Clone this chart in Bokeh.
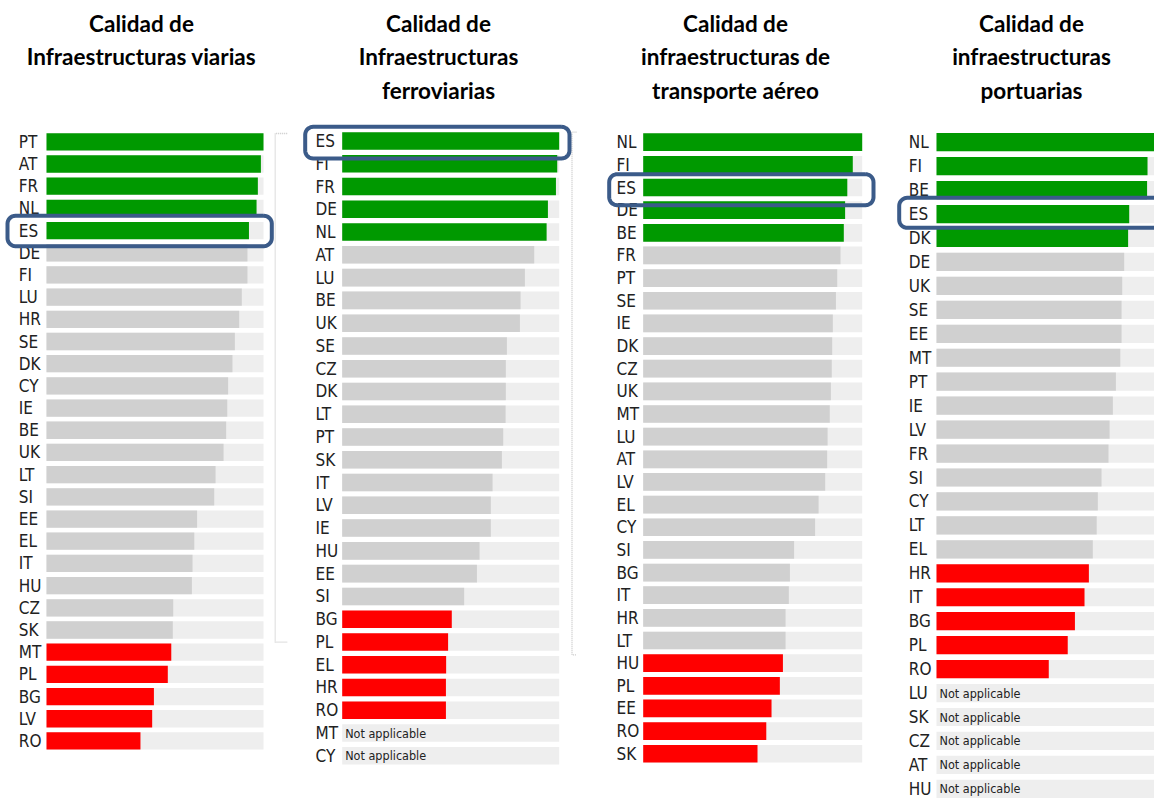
import math
from bokeh.plotting import figure
from bokeh.layouts import row
from bokeh.models import Range1d, ColumnDataSource
from bokeh.core.properties import value
from bokeh.embed import file_html
from bokeh.resources import INLINE

# ---------------- data ----------------
road_title = ["Calidad de", "Infraestructuras viarias"]
road_countries = ["PT", "AT", "FR", "NL", "ES", "DE", "FI", "LU", "HR", "SE", "DK", "CY", "IE", "BE",
                  "UK", "LT", "SI", "EE", "EL", "IT", "HU", "CZ", "SK", "MT", "PL", "BG", "LV", "RO"]
road_values = [100, 98.8, 97.4, 96.8, 93.3, 92.6, 92.6, 90.0, 88.8, 86.8, 85.7, 83.7, 83.3, 82.8,
               81.6, 77.9, 77.3, 69.4, 68.1, 67.3, 67.0, 58.4, 58.2, 57.5, 55.9, 49.5, 48.7, 43.3]

rail_title = ["Calidad de", "Infraestructuras", "ferroviarias"]
rail_countries = ["ES", "FI", "FR", "DE", "NL", "AT", "LU", "BE", "UK", "SE", "CZ", "DK", "LT", "PT",
                  "SK", "IT", "LV", "IE", "HU", "EE", "SI", "BG", "PL", "EL", "HR", "RO", "MT", "CY"]
rail_values = [100, 99.1, 98.5, 94.8, 94.2, 88.5, 84.2, 82.2, 81.9, 75.9, 75.4, 75.4, 75.3, 74.2,
               73.6, 69.3, 68.5, 68.5, 63.3, 62.1, 56.2, 50.5, 48.8, 47.9, 47.8, 47.8, None, None]

air_title = ["Calidad de", "infraestructuras de", "transporte aéreo"]
air_countries = ["NL", "FI", "ES", "DE", "BE", "FR", "PT", "SE", "IE", "DK", "CZ", "UK", "MT", "LU",
                 "AT", "LV", "EL", "CY", "SI", "BG", "IT", "HR", "LT", "HU", "PL", "EE", "RO", "SK"]
air_values = [100, 95.7, 93.2, 92.2, 91.6, 90.1, 88.6, 88.0, 86.6, 86.3, 86.1, 85.7, 85.2, 84.2,
              84.0, 83.1, 80.1, 78.5, 68.9, 67.0, 66.5, 65.0, 65.0, 63.8, 62.4, 58.6, 56.2, 52.2]

port_title = ["Calidad de", "infraestructuras", "portuarias"]
port_countries = ["NL", "FI", "BE", "ES", "DK", "DE", "UK", "SE", "EE", "MT", "PT", "IE", "LV", "FR",
                  "SI", "CY", "LT", "EL", "HR", "IT", "BG", "PL", "RO", "LU", "SK", "CZ", "AT", "HU"]
port_values = [100, 96.8, 96.6, 88.4, 87.9, 86.1, 85.2, 84.9, 84.9, 84.3, 82.3, 80.9, 79.4, 78.9,
               75.7, 74.0, 73.5, 71.7, 69.9, 67.9, 63.5, 60.2, 51.5, None, None, None, None, None]

highlight = "ES"
n_top = 5
n_bottom = 5
scale_max = 100
na_text = "Not applicable"

# ---------------- style / layout ----------------
GREEN = "#009900"
RED = "#ff0000"
GREY = "#d0d0d0"
BG = "#eeeeee"
BLUE = "#3b5b89"
LABEL_FONT = "DejaVu Sans Condensed"
PAGE_TOP, PAGE_BOTTOM = 0, 800

panels = [
    dict(title=road_title, countries=road_countries, values=road_values,
         L=0, R=290, x0=46.0, s=2.17, c0=141.3, d=22.19, bh=0.78, lab_dx=-27.7, tcx=141,
         box=(7, 271.3, -14.8, 15.6), dots=(274.7, 286.7, 133, 641.7)),
    dict(title=rail_title, countries=rail_countries, values=rail_values,
         L=290, R=590, x0=341.7, s=2.17, c0=140.5, d=22.77, bh=0.77, lab_dx=-26.7, tcx=438,
         box=(304.7, 569, -14.2, 17.5), dots=(571.5, 576, 131.7, 654.3)),
    dict(title=air_title, countries=air_countries, values=air_values,
         L=590, R=880, x0=642.7, s=2.19, c0=141.7, d=22.65, bh=0.78, lab_dx=-26.7, tcx=735,
         box=(608.7, 873, -13.3, 17.7), dots=None),
    dict(title=port_title, countries=port_countries, values=port_values,
         L=880, R=1154, x0=936.0, s=2.18, c0=141.7, d=23.95, bh=0.76, lab_dx=-27.7, tcx=1031,
         box=(898.7, 1200, -16.2, 13.8), dots=None),
]


def rounded_path(x1, x2, y1, y2, r=8, n=8):
    xs, ys = [], []
    corners = [(x2 - r, y1 + r, -90), (x2 - r, y2 - r, 0), (x1 + r, y2 - r, 90), (x1 + r, y1 + r, 180)]
    for cx, cy, a0 in corners:
        for j in range(n + 1):
            a = math.radians(a0 + 90.0 * j / n)
            xs.append(cx + r * math.cos(a))
            ys.append(cy + r * math.sin(a))
    xs.append(xs[0])
    ys.append(ys[0])
    return xs, ys


figs = []
for P in panels:
    fx = lambda px, P=P: (px - P["x0"]) / P["s"]
    fy = lambda py, P=P: (py - P["c0"]) / P["d"]

    p = figure(width=P["R"] - P["L"], height=PAGE_BOTTOM - PAGE_TOP,
               x_range=Range1d(fx(P["L"]), fx(P["R"])),
               y_range=Range1d(fy(PAGE_BOTTOM), fy(PAGE_TOP)),
               x_axis_type=None, y_axis_type=None, output_backend="svg",
               toolbar_location=None, min_border=0, outline_line_color=None)

    countries = P["countries"]
    vals = P["values"]
    idx = list(range(len(countries)))
    applicable = [i for i in idx if vals[i] is not None]
    na = [i for i in idx if vals[i] is None]
    colors = []
    for rank, i in enumerate(applicable):
        if rank < n_top:
            colors.append(GREEN)
        elif rank >= len(applicable) - n_bottom:
            colors.append(RED)
        else:
            colors.append(GREY)

    # background tracks
    p.hbar(y=idx, left=0, right=scale_max, height=P["bh"], fill_color=BG, line_color=None)
    # value bars
    src = ColumnDataSource(dict(y=applicable, v=[vals[i] for i in applicable], c=colors))
    p.hbar(y="y", left=0, right="v", height=P["bh"], source=src, fill_color="c", line_color=None)

    # country labels
    p.text(x=[0] * len(idx), y=idx, text=countries, x_offset=P["lab_dx"],
           text_align="left", text_baseline="middle", text_font=value(LABEL_FONT),
           text_font_size="17px", text_color="#222222")
    if na:
        p.text(x=[0] * len(na), y=na, text=[na_text] * len(na), x_offset=3,
               text_align="left", text_baseline="middle", text_font=value(LABEL_FONT),
               text_font_size="12.5px", text_color="#222222")

    # titles
    tys = [fy(23 + 33.3 * k) for k in range(len(P["title"]))]
    p.text(x=[fx(P["tcx"])] * len(tys), y=tys, text=P["title"], text_align="center",
           text_baseline="alphabetic", text_font=value("Lato"), text_font_style="bold",
           text_font_size="22.5px", text_color="#000000")

    # dotted frame marks
    if P["dots"]:
        xa, xb, ya, yb = P["dots"]
        p.multi_line(xs=[[fx(xb), fx(xa), fx(xa), fx(xb)]],
                     ys=[[fy(ya), fy(ya), fy(yb), fy(yb)]],
                     line_color="#c8c8c8", line_width=1.3, line_dash="1 1")

    # highlight box around Spain (rounded rectangle)
    k = countries.index(highlight)
    cpx = P["c0"] + k * P["d"]
    bl, br, bt, bb = P["box"]
    bxs, bys = rounded_path(bl, br, cpx + bt, cpx + bb)
    p.line(x=[fx(v) for v in bxs], y=[fy(v) for v in bys], line_color=BLUE,
           line_width=4, line_join="round")
    figs.append(p)

layout = row(*figs, spacing=0)
open("out.html", "w").write(file_html(layout, INLINE))
